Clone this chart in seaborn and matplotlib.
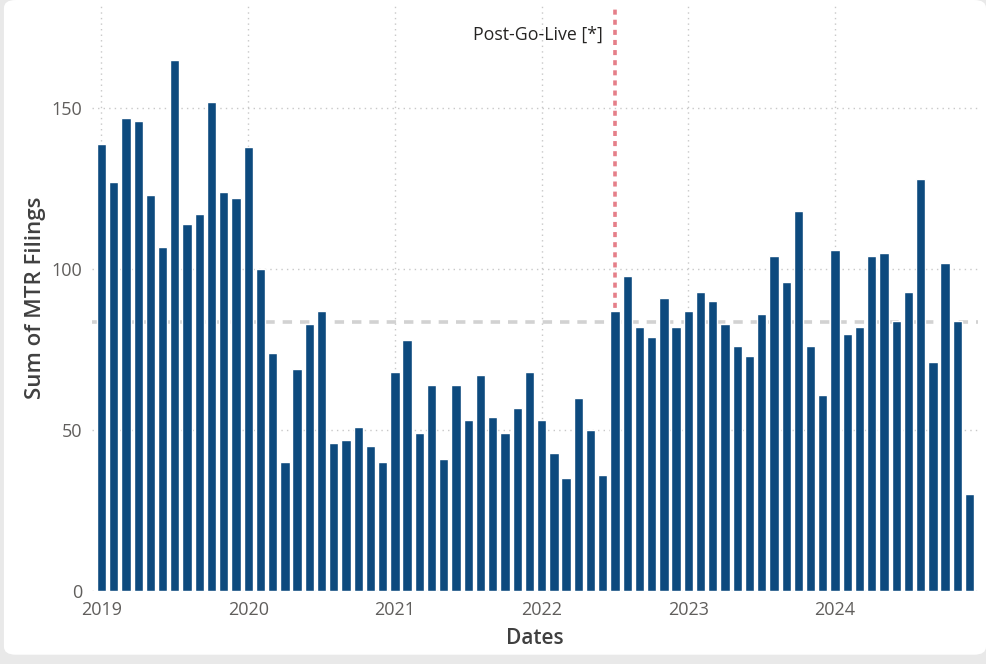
import matplotlib.pyplot as plt
import pandas as pd
import seaborn as sns
from matplotlib.patches import FancyBboxPatch

# Monthly MTR filings
year_labels = ["2019", "2020", "2021", "2022", "2023", "2024"]
filings_2019 = [139, 127, 147, 146, 123, 107, 165, 114, 117, 152, 124, 122]
filings_2020 = [138, 100, 74, 40, 69, 83, 87, 46, 47, 51, 45, 40]
filings_2021 = [68, 78, 49, 64, 41, 64, 53, 67, 54, 49, 57, 68]
filings_2022 = [53, 43, 35, 60, 50, 36, 87, 98, 82, 79, 91, 82]
filings_2023 = [87, 93, 90, 83, 76, 73, 86, 104, 96, 118, 76, 61]
filings_2024 = [106, 80, 82, 104, 105, 84, 93, 128, 71, 102, 84, 30]
go_live_month = "2022-07"

values = (filings_2019 + filings_2020 + filings_2021
          + filings_2022 + filings_2023 + filings_2024)
months = pd.date_range("2019-01-01", periods=len(values), freq="MS")
df = pd.DataFrame({"Dates": months.strftime("%Y-%m"), "filings": values})

sns.set_theme(style="white")
plt.rcParams["font.family"] = ["Open Sans", "DejaVu Sans"]

fig = plt.figure(figsize=(9.86, 6.64), dpi=100)
fig.patch.set_facecolor("#E9E9E9")
card = FancyBboxPatch((0.004, 0.014), 0.996, 0.986, boxstyle="round,pad=0,rounding_size=0.012",
                      transform=fig.transFigure, facecolor="white", edgecolor="none", zorder=-10)
fig.patches.append(card)

ax = fig.add_axes([0.093, 0.11, 0.899, 0.882])
ax.set_facecolor("none")

sns.barplot(data=df, x="Dates", y="filings", color="#0D4A7E", saturation=1,
            width=0.76, ax=ax, zorder=3)

# average line (behind bars)
ax.axhline(df["filings"].mean(), color="#D2D2D2", ls=(0, (2.6, 2.2)), lw=2.6, zorder=1)

# go-live marker
go_idx = df.index[df["Dates"] == go_live_month][0]
ax.axvline(go_idx, color="#E57F89", ls=(0, (1.4, 1.4)), lw=2.6, zorder=2)
ax.annotate("Post-Go-Live [*]", xy=(go_idx, 1), xycoords=("data", "axes fraction"),
            xytext=(-9, -21.5), textcoords="offset points", ha="right", va="center",
            fontsize=12.8, color="#252423")

ax.set_xlim(-0.8, len(values) - 0.3)
ax.set_ylim(0, 182)
ax.set_yticks([0, 50, 100, 150])
ax.set_xticks(range(0, len(values), 12))
ax.set_xticklabels(year_labels)
ax.tick_params(axis="both", length=0, labelsize=13, labelcolor="#605E5C")
ax.tick_params(axis="y", pad=7)
ax.tick_params(axis="x", pad=7)

ax.grid(True, ls=(0, (1, 3)), color="#C8C8C8", lw=1)
ax.set_axisbelow(True)
sns.despine(ax=ax, left=True, bottom=True)

ax.set_xlabel("Dates", fontsize=15, fontweight="semibold", color="#404040", labelpad=7)
ax.set_ylabel("Sum of MTR Filings", fontsize=16, fontweight="semibold", color="#404040",
              labelpad=4)

fig.savefig("out.png", dpi=100)
